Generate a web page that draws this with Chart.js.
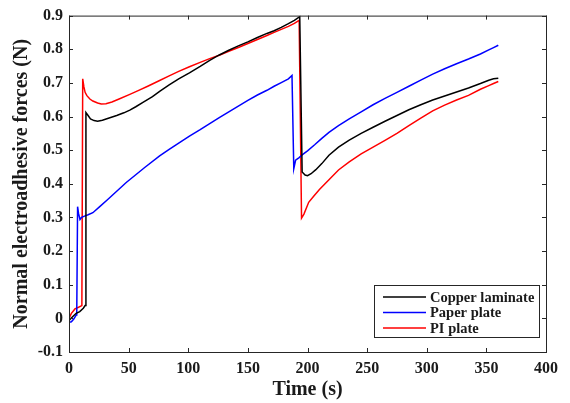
<!DOCTYPE html>
<html>
<head>
<meta charset="utf-8">
<script src="https://cdn.jsdelivr.net/npm/chart.js@4.4.0/dist/chart.umd.min.js"></script>
<style>
  html, body { margin: 0; padding: 0; background: #fff; }
</style>
</head>
<body>
<canvas id="chart-force" width="570" height="403"></canvas>
<script>
// Copper laminate (black)
const copperTime = [0, 3, 6, 9, 12, 13.5, 14.2, 16, 18, 21, 24, 28, 33, 40, 46, 51, 56, 62, 70, 76, 84, 92, 101, 110, 118, 126, 134, 142, 150, 158, 166, 172, 178, 184, 189, 193.5, 195.5, 198, 200, 203, 207, 212, 218, 226, 235, 245, 255, 265, 275, 285, 295, 305, 315, 325, 335, 345, 352, 356, 360];
const copperForce = [-0.006, 0.005, 0.015, 0.02, 0.03, 0.038, 0.612, 0.603, 0.593, 0.588, 0.586, 0.589, 0.595, 0.603, 0.611, 0.619, 0.629, 0.642, 0.659, 0.675, 0.694, 0.712, 0.73, 0.749, 0.767, 0.783, 0.797, 0.81, 0.822, 0.835, 0.847, 0.855, 0.865, 0.876, 0.886, 0.897, 0.435, 0.426, 0.424, 0.43, 0.442, 0.46, 0.485, 0.509, 0.53, 0.55, 0.568, 0.586, 0.603, 0.62, 0.635, 0.649, 0.661, 0.673, 0.685, 0.698, 0.708, 0.712, 0.714];

// Paper plate (blue)
const paperTime = [0, 2, 4, 6, 6.5, 7.2, 8, 9.2, 10.5, 13, 16, 20, 26, 32, 40, 48, 56, 64, 76, 84, 92, 101, 110, 118, 126, 134, 142, 150, 158, 166, 172, 178, 184, 187, 188.5, 190, 193, 195.5, 200, 206, 212, 218, 226, 235, 245, 255, 265, 275, 285, 295, 305, 315, 325, 335, 345, 352, 356, 360];
const paperForce = [-0.012, -0.01, -0.002, 0.01, 0.012, 0.332, 0.312, 0.294, 0.3, 0.304, 0.308, 0.314, 0.333, 0.352, 0.378, 0.404, 0.427, 0.45, 0.483, 0.502, 0.521, 0.542, 0.561, 0.579, 0.597, 0.614, 0.631, 0.648, 0.664, 0.678, 0.69, 0.701, 0.712, 0.722, 0.445, 0.47, 0.478, 0.486, 0.498, 0.516, 0.535, 0.553, 0.573, 0.593, 0.614, 0.635, 0.654, 0.672, 0.69, 0.708, 0.726, 0.742, 0.757, 0.771, 0.786, 0.798, 0.805, 0.812];

// PI plate (red)
const piTime = [0, 2, 5, 8, 10.8, 11.5, 12.5, 13.5, 15, 17.5, 20, 24, 27, 31, 36, 42, 51, 58, 66, 76, 84, 92, 101, 110, 118, 126, 134, 142, 150, 158, 166, 172, 178, 184, 189, 193, 195, 197, 201, 205, 210, 218, 226, 235, 245, 255, 265, 275, 285, 295, 305, 315, 325, 335, 345, 352, 356, 360];
const piForce = [0.0, 0.015, 0.028, 0.033, 0.038, 0.712, 0.688, 0.672, 0.662, 0.652, 0.646, 0.64, 0.637, 0.638, 0.643, 0.652, 0.666, 0.677, 0.69, 0.707, 0.721, 0.734, 0.748, 0.761, 0.772, 0.782, 0.794, 0.805, 0.817, 0.829, 0.841, 0.85, 0.859, 0.868, 0.877, 0.886, 0.298, 0.31, 0.345, 0.362, 0.383, 0.412, 0.441, 0.465, 0.489, 0.509, 0.529, 0.55, 0.573, 0.595, 0.617, 0.634, 0.649, 0.663, 0.681, 0.692, 0.698, 0.704];

const xTicks = [0, 50, 100, 150, 200, 250, 300, 350, 400];
const yTicks = [-0.1, 0, 0.1, 0.2, 0.3, 0.4, 0.5, 0.6, 0.7, 0.8, 0.9];

const serif = '"Liberation Serif", "Times New Roman", serif';
const axisColor = '#262626';

function points(t, v) {
    return t.map((x, i) => ({ x: x, y: v[i] }));
}

// MATLAB style box, inward ticks and boxed legend
const frame = {
    id: 'frame',
    afterDraw(chart) {
        const { ctx, chartArea: a, scales: { x, y } } = chart;
        ctx.save();
        ctx.strokeStyle = axisColor;
        ctx.lineWidth = 1;
        ctx.strokeRect(a.left + 0.5, a.top + 0.5, a.right - a.left, a.bottom - a.top);
        ctx.beginPath();
        xTicks.forEach(v => {
            const px = Math.round(x.getPixelForValue(v)) + 0.5;
            ctx.moveTo(px, a.bottom); ctx.lineTo(px, a.bottom - 4);
            ctx.moveTo(px, a.top); ctx.lineTo(px, a.top + 4);
        });
        yTicks.forEach(v => {
            const py = Math.round(y.getPixelForValue(v)) + 0.5;
            ctx.moveTo(a.left, py); ctx.lineTo(a.left + 4, py);
            ctx.moveTo(a.right, py); ctx.lineTo(a.right - 4, py);
        });
        ctx.stroke();

        const left = a.right - 172, top = a.bottom - 67;
        ctx.fillStyle = '#fff';
        ctx.fillRect(left, top, 165, 52);
        ctx.strokeRect(left + 0.5, top + 0.5, 165, 52);
        ctx.font = 'bold 14.5px ' + serif;
        ctx.textBaseline = 'middle';
        chart.data.datasets.forEach((ds, i) => {
            const ry = top + 12 + i * 15.5;
            ctx.strokeStyle = ds.borderColor;
            ctx.lineWidth = 1.5;
            ctx.beginPath();
            ctx.moveTo(left + 9, ry); ctx.lineTo(left + 52, ry);
            ctx.stroke();
            ctx.fillStyle = '#1a1a1a';
            ctx.fillText(ds.label, left + 56, ry + 1);
        });
        ctx.restore();
    }
};

const tickFont = { family: serif, size: 16, weight: 'bold' };
const titleFont = { family: serif, size: 20, weight: 'bold' };

new Chart(document.getElementById('chart-force'), {
    type: 'line',
    data: {
        datasets: [
            { label: 'Copper laminate', data: points(copperTime, copperForce), borderColor: '#000000' },
            { label: 'Paper plate', data: points(paperTime, paperForce), borderColor: '#0000ff' },
            { label: 'PI plate', data: points(piTime, piForce), borderColor: '#ff0000' }
        ]
    },
    options: {
        responsive: false,
        animation: false,
        devicePixelRatio: 1,
        elements: {
            line: { borderWidth: 1.5, tension: 0 },
            point: { radius: 0 }
        },
        layout: { padding: { top: 12, right: 24, left: 0, bottom: 0 } },
        plugins: {
            legend: { display: false },
            tooltip: { enabled: false }
        },
        scales: {
            x: {
                type: 'linear',
                min: 0,
                max: 400,
                afterBuildTicks: s => { s.ticks = xTicks.map(v => ({ value: v })); },
                afterFit: s => { s.height = 51; },
                grid: { display: false, drawTicks: false },
                border: { display: false },
                ticks: { color: '#1a1a1a', font: tickFont, padding: 7, maxRotation: 0, autoSkip: false },
                title: { display: true, text: 'Time (s)', color: '#1a1a1a', font: titleFont, padding: { top: 0, bottom: 1 } }
            },
            y: {
                min: -0.1,
                max: 0.9,
                afterBuildTicks: s => { s.ticks = yTicks.map(v => ({ value: v })); },
                afterFit: s => { s.width = 69; },
                grid: { display: false, drawTicks: false },
                border: { display: false },
                ticks: {
                    color: '#1a1a1a', font: tickFont, padding: 6, autoSkip: false,
                    callback: v => String(Math.round(v * 10) / 10)
                },
                title: { display: true, text: 'Normal electroadhesive forces (N)', color: '#1a1a1a', font: titleFont, padding: { top: 10, bottom: 0 } }
            }
        }
    },
    plugins: [frame]
});
</script>
</body>
</html>
